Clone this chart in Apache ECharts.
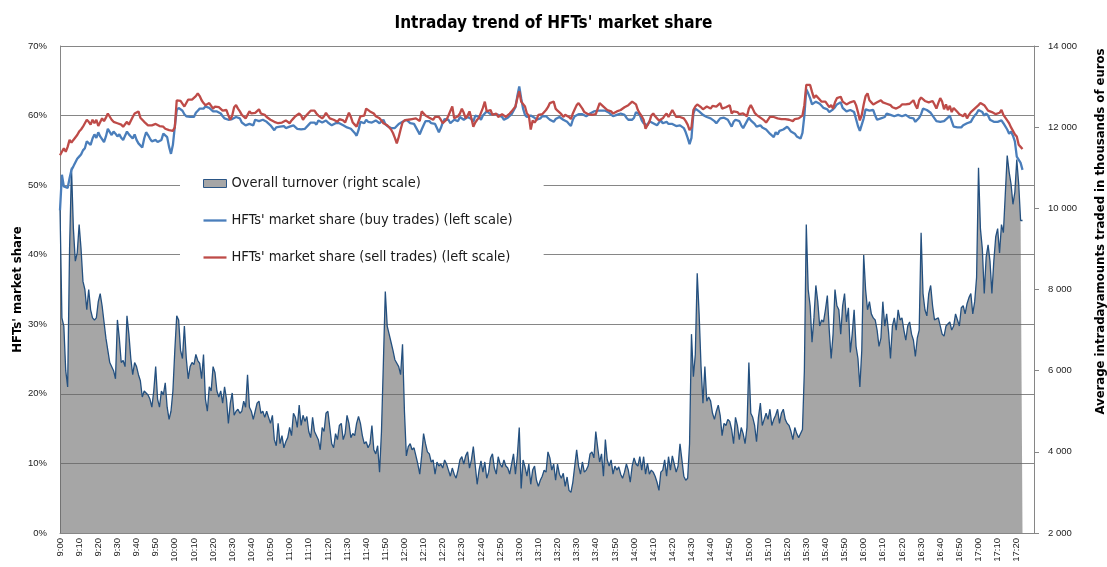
<!DOCTYPE html>
<html lang="en">
<head>
<meta charset="UTF-8">
<title>Intraday trend of HFTs' market share</title>
<script src="https://cdn.jsdelivr.net/npm/echarts@6/dist/echarts.min.js"></script>
<style>
    html, body { margin: 0; padding: 0; background: #fff; }
    #main { width: 1107px; height: 567px; }
</style>
</head>
<body>
<div id="main"></div>
<script>
// one category per minute, 9:00 .. 17:29
var minutes = [];
for (var m = 9 * 60; m < 17 * 60 + 30; m++) {
    var mm = m % 60;
    minutes.push(Math.floor(m / 60) + ':' + (mm < 10 ? '0' : '') + mm);
}

// overall turnover, thousands of euros (right scale), 9:00 .. 17:23
var turnover = [
    10000, 7300, 7100, 6000, 5600, 9000, 11000, 9500, 8700, 8900,   // 9:00
    9600, 9000, 8200, 8000, 7500, 8000, 7500, 7300, 7250, 7300,
    7700, 7900, 7600, 7200, 6800, 6500, 6200, 6200, 6000, 5800,
    7250, 6800, 6200, 6250, 6100, 7350, 6900, 6300, 5900, 6200,
    6100, 5900, 5750, 5350, 5500, 5500, 5400, 5300, 5100, 5500,
    6100, 5300, 5100, 5500, 5400, 5700, 5100, 4800, 5000, 5500,
    6500, 7350, 7250, 6500, 6300, 7100, 6300, 5800, 6100, 6200,     // 10:00
    6150, 6400, 6250, 6180, 5800, 6400, 5300, 5000, 5600, 5500,
    6100, 5950, 5500, 5350, 5500, 5200, 5600, 5300, 4700, 5200,
    5450, 4900, 5000, 5050, 4950, 5000, 5250, 5100, 5900, 5100,
    5000, 4800, 5000, 5200, 5250, 4950, 5000, 4850, 5000, 4850,
    4700, 4900, 4300, 4150, 4700, 4200, 4400, 4100, 4250, 4350,
    4600, 4400, 4950, 4850, 4600, 5150, 4650, 4900, 4750, 4870,     // 11:00
    4500, 4350, 4850, 4500, 4500, 4300, 4050, 4600, 4500, 4950,
    5000, 4600, 4200, 4100, 4450, 4300, 4650, 4700, 4300, 4450,
    4900, 4700, 4350, 4450, 4400, 4700, 4870, 4700, 4400, 4200,
    4250, 4100, 4200, 4650, 4050, 3950, 4150, 3500, 4500, 6200,
    7950, 7100, 6900, 6700, 6500, 6270, 6250, 6100, 5900, 6650,
    5000, 3900, 4130, 4200, 4050, 4100, 3900, 3700, 3450, 3900,     // 12:00
    4450, 4200, 4000, 3950, 3750, 3800, 3450, 3750, 3650, 3700,
    3600, 3800, 3700, 3550, 3400, 3600, 3450, 3350, 3550, 3800,
    3880, 3700, 3900, 4000, 3600, 3800, 4130, 4100, 3200, 3550,
    3780, 3500, 3750, 3350, 3500, 3850, 3950, 3600, 3450, 3880,
    3700, 3620, 3800, 3650, 3600, 3450, 3450, 3950, 3450, 3900,
    4600, 3100, 3800, 3630, 3400, 3700, 3200, 3550, 3650, 3300,     // 13:00
    3150, 3300, 3400, 3550, 3500, 4000, 3850, 3550, 3700, 3300,
    3700, 3450, 3350, 3470, 3150, 3380, 3050, 3000, 3250, 3650,
    4050, 3650, 3450, 3750, 3500, 3550, 3650, 3950, 4000, 3850,
    4500, 4100, 3750, 3950, 3400, 4300, 3800, 3650, 3800, 3450,
    3650, 3550, 3630, 3450, 3350, 3500, 3700, 3550, 3250, 3650,
    3850, 3700, 3650, 3880, 3550, 3880, 3450, 3720, 3450, 3550,     // 14:00
    3500, 3400, 3250, 3050, 3500, 3550, 3800, 3400, 3880, 3550,
    3900, 3700, 3500, 3650, 4200, 3800, 3400, 3300, 3350, 4200,
    6900, 5850, 6400, 8400, 7400, 6100, 5200, 6100, 5250, 5350,
    5250, 4950, 4800, 5000, 5150, 4900, 4400, 4700, 4650, 4800,
    4750, 4550, 4200, 4850, 4650, 4300, 4600, 4450, 4200, 4600,
    6200, 4950, 4850, 4650, 4250, 4850, 5200, 4650, 4800, 4950,     // 15:00
    4800, 5050, 4650, 4800, 4900, 5050, 4700, 4950, 5050, 4800,
    4700, 4650, 4500, 4300, 4600, 4450, 4350, 4380, 4550, 6000,
    9600, 8000, 7600, 6700, 7300, 8100, 7700, 7100, 7250, 7200,
    7500, 7850, 7000, 6300, 6900, 8000, 7600, 7500, 6900, 7600,
    7900, 7200, 7550, 6450, 6900, 7500, 6600, 6300, 5600, 6500,
    8850, 7990, 7500, 7700, 7400, 7300, 7250, 7000, 6600, 6800,     // 16:00
    7700, 7100, 7400, 6950, 6300, 7100, 7300, 7000, 7500, 7250,
    7300, 7000, 6750, 7100, 7200, 6900, 6750, 6350, 6800, 7000,
    9400, 7900, 7500, 7350, 7900, 8100, 7600, 7250, 7250, 7300,
    7290, 6900, 6850, 7100, 7150, 7200, 7000, 7100, 7400, 7250,
    7100, 7550, 7600, 7400, 7650, 7800, 7900, 7400, 7700, 8300,
    11000, 9500, 9000, 7900, 8800, 9100, 8700, 7900, 8700, 9300,   // 17:00
    9500, 8900, 9600, 9400, 10350, 11300, 10900, 10600, 10100, 10400,
    11200, 10600, 9700, 9700
];

// HFTs' market share, buy trades, % (left scale)
var buyShare = [
    46.4, 51.5, 49.8, 49.8, 49.6, 51.0, 52.2, 52.7, 52.9, 53.8,    // 9:00
    54.1, 54.4, 55.0, 55.3, 56.3, 56.5, 55.8, 56.7, 57.3, 56.8,
    57.6, 57.0, 57.2, 56.2, 57.0, 58.1, 58.0, 57.2, 57.7, 57.4,
    57.0, 57.3, 56.8, 56.5, 56.7, 57.7, 57.3, 57.0, 56.7, 57.3,
    56.5, 56.0, 55.8, 55.4, 56.7, 57.6, 57.2, 56.7, 56.3, 56.2,
    56.5, 56.2, 56.0, 56.5, 57.4, 57.2, 56.9, 55.5, 54.5, 55.8,
    58.4, 60.8, 61.1, 61.1, 60.7, 60.2, 59.9, 59.7, 59.8, 59.8,    // 10:00
    59.8, 60.4, 60.7, 61.0, 61.2, 61.0, 61.3, 61.4, 61.1, 61.0,
    60.6, 60.6, 60.6, 60.4, 60.3, 59.9, 59.6, 59.4, 59.4, 59.4,
    59.5, 59.7, 59.8, 59.7, 59.6, 59.0, 58.9, 58.6, 58.4, 58.8,
    58.7, 58.6, 59.4, 59.4, 59.2, 59.2, 59.4, 59.2, 59.1, 58.9,
    58.6, 58.4, 57.9, 58.3, 58.2, 58.4, 58.5, 58.5, 58.2, 58.3,
    58.4, 58.5, 58.6, 58.4, 58.1, 57.9, 58.0, 58.0, 58.1, 58.3,    // 11:00
    58.7, 59.0, 59.1, 59.0, 58.7, 59.3, 59.4, 59.0, 59.2, 59.3,
    59.0, 58.8, 58.6, 58.7, 58.9, 59.0, 58.9, 58.7, 58.6, 58.5,
    58.3, 58.2, 58.1, 58.3, 57.5, 57.1, 57.9, 59.1, 58.9, 58.9,
    59.4, 59.1, 58.9, 59.0, 59.1, 59.3, 59.1, 58.9, 58.9, 59.4,
    58.8, 58.5, 58.4, 58.2, 58.0, 58.2, 58.4, 58.8, 59.0, 59.1,
    59.2, 59.4, 59.2, 58.9, 58.9, 58.8, 58.7, 57.8, 57.3, 58.0,    // 12:00
    58.6, 59.2, 59.4, 59.2, 58.9, 58.7, 58.8, 58.8, 57.6, 58.2,
    59.0, 59.5, 59.6, 59.4, 58.9, 59.1, 59.4, 59.2, 59.2, 59.8,
    59.6, 59.4, 59.6, 59.8, 59.6, 59.5, 59.1, 60.0, 60.2, 59.8,
    59.4, 60.0, 60.1, 60.6, 60.4, 60.2, 60.1, 60.2, 60.0, 60.1,
    60.1, 59.8, 59.4, 59.5, 59.7, 59.8, 60.2, 60.3, 61.2, 62.8,
    64.2, 62.5, 61.0, 60.1, 59.8, 60.0, 60.0, 59.9, 59.7, 59.4,    // 13:00
    59.5, 59.6, 59.9, 60.1, 59.9, 59.7, 59.4, 59.3, 59.1, 59.5,
    59.7, 59.8, 59.6, 59.4, 59.2, 59.1, 58.8, 58.5, 59.4, 59.9,
    60.1, 60.2, 60.3, 60.2, 60.1, 59.9, 59.9, 60.3, 60.5, 60.6,
    60.6, 60.7, 60.8, 60.7, 60.6, 60.7, 60.8, 60.4, 60.2, 59.9,
    60.0, 60.1, 60.2, 60.3, 60.2, 60.1, 59.7, 59.4, 59.2, 59.4,
    59.7, 60.5, 60.5, 60.1, 59.3, 58.9, 58.8, 58.6, 59.2, 59.2,    // 14:00
    58.9, 58.7, 58.6, 59.0, 59.3, 58.9, 59.0, 59.1, 58.8, 58.6,
    58.8, 59.0, 58.5, 58.6, 58.6, 58.4, 58.2, 57.6, 56.8, 55.9,
    56.8, 60.3, 61.0, 60.8, 60.6, 60.5, 60.1, 59.9, 59.8, 59.6,
    59.6, 59.4, 59.2, 58.9, 59.1, 59.6, 59.8, 59.7, 59.5, 59.4,
    59.2, 58.4, 59.1, 59.4, 59.4, 59.2, 58.6, 58.2, 58.4, 59.2,
    59.7, 59.3, 59.2, 58.8, 58.4, 58.5, 58.6, 58.3, 58.1, 58.0,    // 15:00
    57.9, 57.4, 57.2, 56.9, 57.6, 57.3, 57.8, 57.9, 58.0, 58.2,
    58.4, 58.1, 57.7, 57.5, 57.4, 57.0, 56.8, 56.7, 57.5, 60.0,
    63.8, 63.2, 62.5, 61.6, 61.8, 62.0, 61.9, 61.7, 61.4, 61.1,
    61.0, 60.9, 60.5, 60.5, 60.9, 61.2, 61.6, 61.8, 61.9, 61.1,
    61.0, 60.6, 60.7, 60.8, 60.6, 60.5, 59.5, 58.5, 57.8, 57.9,
    59.6, 60.9, 61.0, 60.7, 60.7, 60.8, 60.0, 59.4, 59.5, 59.6,    // 16:00
    59.6, 59.8, 60.3, 60.2, 60.1, 60.0, 59.9, 60.0, 60.1, 60.1,
    59.9, 60.0, 60.1, 60.0, 59.7, 59.6, 59.6, 59.1, 59.0, 59.7,
    60.2, 61.0, 61.0, 60.8, 60.6, 60.4, 60.0, 59.6, 59.2, 59.1,
    59.1, 59.3, 59.2, 59.3, 59.7, 60.0, 59.9, 58.4, 58.6, 58.3,
    58.3, 58.3, 58.6, 58.4, 58.9, 58.9, 59.1, 59.6, 60.0, 60.3,
    60.8, 60.8, 60.5, 60.0, 60.3, 60.0, 59.4, 59.6, 59.1, 59.3,    // 17:00
    59.1, 59.3, 59.3, 58.9, 58.7, 58.0, 57.4, 57.7, 57.1, 56.3,
    54.1, 54.0, 53.2, 52.2
];

// HFTs' market share, sell trades, % (left scale)
var sellShare = [
    54.3, 54.1, 55.3, 54.8, 55.5, 56.5, 56.1, 56.5, 56.7, 57.2,    // 9:00
    57.7, 58.0, 58.4, 58.4, 59.4, 59.1, 58.7, 59.4, 58.9, 59.4,
    58.5, 58.7, 59.6, 59.2, 59.7, 60.3, 60.1, 59.4, 59.1, 59.1,
    58.9, 59.0, 58.7, 58.4, 58.2, 59.1, 58.7, 58.6, 59.8, 60.3,
    60.1, 60.6, 59.7, 59.7, 59.1, 59.1, 58.6, 58.4, 58.6, 58.6,
    58.8, 58.7, 58.5, 58.4, 58.4, 58.1, 57.9, 57.9, 57.7, 57.8,
    58.3, 62.2, 62.2, 62.1, 62.3, 61.3, 61.8, 62.3, 62.5, 62.3,    // 10:00
    62.1, 62.8, 63.2, 62.8, 62.2, 61.8, 61.5, 61.6, 61.8, 61.7,
    61.0, 61.3, 61.5, 61.2, 61.0, 60.7, 60.7, 60.8, 60.0, 59.4,
    60.0, 61.2, 61.5, 61.0, 60.6, 60.1, 59.9, 59.6, 59.7, 60.6,
    60.3, 60.1, 60.4, 60.6, 60.9, 60.3, 60.2, 60.1, 59.8, 59.6,
    59.4, 59.2, 59.1, 59.1, 58.9, 58.9, 59.0, 59.1, 59.3, 59.2,
    58.9, 59.3, 59.6, 59.9, 60.1, 60.3, 60.0, 59.4, 59.8, 60.1,    // 11:00
    60.4, 60.7, 60.8, 60.7, 60.3, 60.0, 59.8, 59.6, 59.9, 60.4,
    60.2, 59.6, 59.4, 59.4, 59.2, 59.1, 59.5, 59.7, 59.3, 59.0,
    59.0, 60.4, 59.8, 59.0, 58.7, 58.4, 58.6, 59.9, 60.0, 60.0,
    61.0, 60.9, 60.6, 60.4, 60.3, 59.9, 59.7, 59.6, 59.3, 58.9,
    58.7, 58.6, 58.4, 58.0, 57.5, 56.8, 56.0, 56.9, 58.0, 59.0,
    59.3, 59.2, 59.4, 59.6, 59.5, 59.3, 59.6, 59.7, 59.2, 60.6,    // 12:00
    60.5, 60.0, 59.8, 59.7, 59.5, 59.4, 59.8, 60.0, 59.8, 59.4,
    58.9, 59.1, 59.4, 60.0, 60.0, 61.3, 59.6, 59.6, 59.9, 60.3,
    61.0, 60.4, 59.6, 60.0, 60.6, 59.6, 58.4, 59.0, 59.4, 59.7,
    59.9, 61.1, 62.0, 60.6, 60.7, 60.8, 60.1, 60.2, 60.3, 59.8,
    59.6, 60.2, 60.0, 59.8, 60.0, 60.3, 60.6, 60.8, 61.3, 62.5,
    63.5, 62.0, 61.9, 61.3, 60.3, 60.0, 58.0, 59.3, 59.0, 59.4,    // 13:00
    60.1, 60.1, 60.2, 60.3, 60.8, 61.2, 61.8, 61.9, 62.0, 61.0,
    60.7, 60.5, 60.2, 59.8, 60.1, 60.3, 59.8, 59.5, 60.3, 60.9,
    61.5, 61.8, 62.0, 61.0, 60.5, 60.4, 60.2, 60.3, 60.1, 60.1,
    60.2, 61.0, 61.8, 61.6, 61.3, 61.1, 60.8, 60.7, 60.6, 60.3,
    60.4, 60.6, 60.7, 60.8, 61.0, 61.2, 61.3, 61.5, 61.7, 62.0,
    61.9, 61.6, 60.8, 60.3, 59.9, 59.4, 58.1, 58.6, 59.1, 60.0,    // 14:00
    60.3, 59.9, 59.6, 59.3, 59.2, 59.6, 60.0, 60.3, 59.8, 59.6,
    60.8, 60.8, 59.8, 59.7, 59.8, 59.7, 59.6, 59.2, 58.7, 57.9,
    58.3, 60.8, 61.3, 61.6, 61.7, 61.2, 60.9, 61.0, 61.3, 61.2,
    61.0, 61.4, 61.4, 61.3, 61.5, 61.8, 61.0, 60.9, 61.2, 61.3,
    61.5, 60.3, 60.6, 60.6, 60.5, 60.2, 60.2, 60.3, 60.2, 59.9,
    61.0, 61.5, 61.0, 60.4, 60.1, 59.9, 59.7, 59.5, 59.3, 59.0,    // 15:00
    59.2, 59.8, 59.8, 59.8, 59.7, 59.6, 59.4, 59.5, 59.6, 59.5,
    59.4, 59.4, 59.3, 59.2, 59.5, 59.6, 59.6, 59.5, 60.0, 61.5,
    64.4, 64.6, 64.4, 63.4, 62.5, 62.9, 63.0, 62.3, 62.0, 61.9,
    62.0, 62.1, 61.2, 61.5, 61.0, 61.9, 62.5, 62.6, 62.7, 62.0,
    61.9, 61.6, 61.7, 61.9, 62.1, 62.1, 61.5, 60.5, 59.3, 60.1,
    61.6, 62.8, 63.2, 62.2, 61.9, 61.6, 61.8, 61.9, 62.0, 62.2,    // 16:00
    61.9, 61.7, 61.7, 61.6, 61.5, 61.2, 61.0, 61.0, 61.1, 61.3,
    61.6, 61.7, 61.6, 61.5, 61.7, 61.9, 62.2, 61.5, 61.0, 62.2,
    62.6, 62.4, 62.1, 62.0, 61.9, 62.0, 62.1, 61.6, 61.0, 61.8,
    62.5, 62.0, 60.9, 61.6, 60.8, 61.4, 60.5, 61.1, 60.9, 60.5,
    60.2, 60.0, 59.9, 60.3, 59.6, 60.1, 60.5, 60.7, 61.0, 60.8,
    61.5, 61.8, 61.6, 61.5, 61.4, 60.7, 60.8, 60.5, 60.6, 60.2,    // 17:00
    60.3, 60.4, 60.8, 60.1, 59.9, 59.3, 58.9, 58.3, 58.3, 57.3,
    57.0, 55.8, 55.5, 55.2
];

var nameTurnover = 'Overall turnover (right scale)';
var nameBuy = "HFTs' market share (buy trades) (left scale)";
var nameSell = "HFTs' market share (sell trades) (left scale)";

var narrow = "'Liberation Sans Narrow', 'DejaVu Sans Condensed', 'Liberation Sans', sans-serif";
var plain = "'Liberation Sans', Arial, sans-serif";
var axisGrey = '#868686';
var lineIcon = 'path://M0,0L100,0L100,10L0,10Z';

function spaced(v) {
    return String(v).replace(/\B(?=(\d{3})+(?!\d))/g, ' ');
}

var chart = echarts.init(document.getElementById('main'));
chart.setOption({
    animation: false,
    backgroundColor: '#fff',
    title: {
        text: "Intraday trend of HFTs' market share",
        left: 'center',
        top: 10,
        padding: [5, 0, 5, 21],
        textStyle: { fontFamily: narrow, fontSize: 17, fontWeight: 'bold', color: '#000' }
    },
    legend: {
        orient: 'vertical',
        left: 180,
        top: 164,
        padding: [12, 31, 12, 23],
        backgroundColor: '#fff',
        itemGap: 22,
        itemWidth: 23,
        itemHeight: 8,
        symbolKeepAspect: true,
        textStyle: { fontFamily: narrow, fontSize: 14.5, color: '#1a1a1a' },
        data: [
            { name: nameTurnover, icon: 'rect',
              itemStyle: { color: '#a6a6a6', borderColor: '#2a5585', borderWidth: 1 } },
            { name: nameBuy, icon: lineIcon, itemStyle: { color: '#4a7ebb', borderWidth: 0 } },
            { name: nameSell, icon: lineIcon, itemStyle: { color: '#be4b48', borderWidth: 0 } }
        ]
    },
    grid: { left: 60, right: 73, top: 46, bottom: 34, containLabel: false, outerBoundsMode: 'none' },
    xAxis: {
        type: 'category',
        data: minutes,
        boundaryGap: false,
        axisLine: { lineStyle: { color: axisGrey } },
        axisTick: { show: false },
        axisLabel: { interval: 9, rotate: 90, margin: 5, fontSize: 9.5, fontFamily: plain, color: '#222' },
        splitLine: { show: false }
    },
    yAxis: [
        {
            type: 'value',
            min: 0, max: 70, interval: 10,
            name: "HFTs' market share",
            nameLocation: 'middle',
            nameGap: 36,
            nameMoveOverlap: false,
            nameTextStyle: { fontFamily: narrow, fontSize: 13, fontWeight: 'bold', color: '#000' },
            axisLine: { show: true, lineStyle: { color: axisGrey } },
            axisTick: { show: false },
            axisLabel: { formatter: '{value}%', margin: 13, fontSize: 9.5, fontFamily: plain, color: '#222' },
            splitLine: { lineStyle: { color: axisGrey, width: 1 } }
        },
        {
            type: 'value',
            position: 'right',
            min: 2000, max: 14000, interval: 2000,
            name: 'Average intradayamounts traded in thousands of euros',
            nameLocation: 'middle',
            nameGap: 60,
            nameTextStyle: { fontFamily: narrow, fontSize: 13, fontWeight: 'bold', color: '#000',
                             padding: [0, 0, 0, 116] },
            axisLine: { show: true, lineStyle: { color: axisGrey } },
            axisTick: { show: true, length: 5, lineStyle: { color: axisGrey } },
            axisLabel: { formatter: spaced, margin: 14, fontSize: 9.5, fontFamily: plain, color: '#222' },
            splitLine: { show: false }
        }
    ],
    series: [
        {
            name: nameTurnover,
            type: 'line',
            yAxisIndex: 1,
            data: turnover,
            symbol: 'none',
            z: 1,
            lineStyle: { color: '#24507f', width: 1.3 },
            itemStyle: { color: '#a6a6a6' },
            areaStyle: { color: '#646464', opacity: 0.575, origin: 'start' }
        },
        {
            name: nameBuy,
            type: 'line',
            yAxisIndex: 0,
            data: buyShare,
            symbol: 'none',
            z: 3,
            lineStyle: { color: '#4a7ebb', width: 2.3 },
            itemStyle: { color: '#4a7ebb' }
        },
        {
            name: nameSell,
            type: 'line',
            yAxisIndex: 0,
            data: sellShare,
            symbol: 'none',
            z: 4,
            lineStyle: { color: '#be4b48', width: 2.3 },
            itemStyle: { color: '#be4b48' }
        }
    ]
});
</script>
</body>
</html>
